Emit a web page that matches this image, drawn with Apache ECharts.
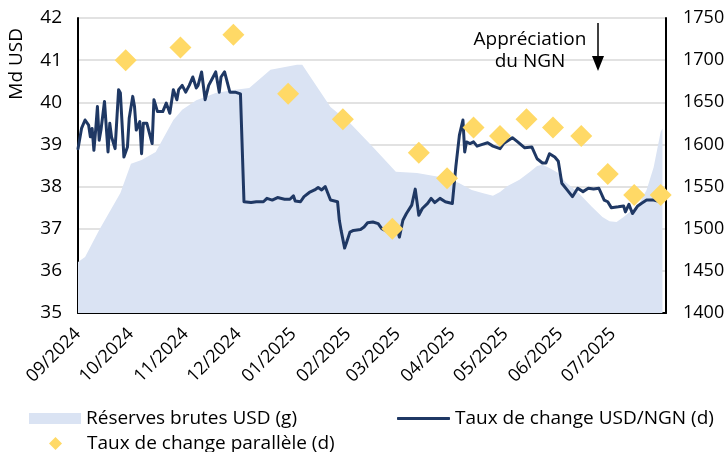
<!DOCTYPE html>
<html lang="fr">
<head>
<meta charset="utf-8">
<title>Nigeria - réserves et taux de change</title>
<script src="https://cdn.jsdelivr.net/npm/echarts@6/dist/echarts.min.js"></script>
<style>
  html, body { margin: 0; padding: 0; background: #fff; }
  #chart { width: 726px; height: 452px; }
</style>
</head>
<body>
<div id="chart"></div>
<script>
// Réserves brutes (Md USD, axe gauche)
var resDates = ['2024-09-01','2024-09-05','2024-09-13','2024-09-25','2024-10-01','2024-10-07','2024-10-15','2024-10-25','2024-10-30',
  '2024-11-07','2024-11-18','2024-11-28','2024-12-07','2024-12-19','2025-01-03','2025-01-06','2025-01-22','2025-02-02','2025-02-15',
  '2025-02-28','2025-03-12','2025-03-29','2025-04-05','2025-04-12','2025-04-18','2025-04-24','2025-04-28','2025-05-02','2025-05-09',
  '2025-05-15','2025-05-19','2025-05-22','2025-05-26','2025-05-31','2025-06-04','2025-06-11','2025-06-19','2025-06-25','2025-06-29',
  '2025-07-03','2025-07-07','2025-07-12','2025-07-16','2025-07-20','2025-07-24','2025-07-28','2025-07-29'];
var resValues = [36.21,36.33,36.97,37.85,38.54,38.63,38.82,39.58,39.82,
  40.05,40.22,40.29,40.34,40.77,40.89,40.89,39.89,39.51,38.94,
  38.35,38.32,38.20,38.08,37.92,37.85,37.78,37.87,38.01,38.16,
  38.35,38.49,38.52,38.44,38.32,38.11,37.87,37.52,37.28,37.18,
  37.16,37.28,37.45,37.61,37.92,38.46,39.30,39.38];

// Taux de change officiel USD/NGN (axe droit)
var rateDates = ['2024-09-01','2024-09-03','2024-09-05','2024-09-07','2024-09-08','2024-09-09','2024-09-10','2024-09-11','2024-09-12',
  '2024-09-13','2024-09-14','2024-09-16','2024-09-18','2024-09-19','2024-09-20','2024-09-22','2024-09-24','2024-09-25','2024-09-27',
  '2024-09-29','2024-09-30','2024-10-02','2024-10-03','2024-10-04','2024-10-06','2024-10-07','2024-10-08','2024-10-10','2024-10-11',
  '2024-10-13','2024-10-14','2024-10-15','2024-10-16','2024-10-19','2024-10-21','2024-10-23','2024-10-25','2024-10-27','2024-10-28',
  '2024-10-30','2024-11-01','2024-11-03','2024-11-05','2024-11-07','2024-11-08','2024-11-10','2024-11-12','2024-11-14','2024-11-16',
  '2024-11-18','2024-11-20','2024-11-21','2024-11-23','2024-11-25','2024-11-26','2024-11-29','2024-12-02','2024-12-04','2024-12-08',
  '2024-12-11','2024-12-15','2024-12-17','2024-12-20','2024-12-23','2024-12-27','2024-12-30','2025-01-01','2025-01-02','2025-01-05',
  '2025-01-07','2025-01-10','2025-01-13','2025-01-15','2025-01-17','2025-01-19','2025-01-20','2025-01-22','2025-01-23','2025-01-26',
  '2025-01-27','2025-01-28','2025-01-30','2025-01-31','2025-02-02','2025-02-04','2025-02-08','2025-02-10','2025-02-12','2025-02-15',
  '2025-02-18','2025-02-20','2025-02-24','2025-02-27','2025-03-01','2025-03-02','2025-03-04','2025-03-06','2025-03-09','2025-03-11',
  '2025-03-13','2025-03-15','2025-03-18','2025-03-20','2025-03-22','2025-03-25','2025-03-28','2025-04-01','2025-04-03','2025-04-05',
  '2025-04-06','2025-04-07','2025-04-08','2025-04-09','2025-04-11','2025-04-13','2025-04-15','2025-04-18','2025-04-21','2025-04-24',
  '2025-04-28','2025-04-30','2025-05-05','2025-05-08','2025-05-12','2025-05-16','2025-05-19','2025-05-22','2025-05-24','2025-05-26',
  '2025-05-29','2025-05-31','2025-06-02','2025-06-05','2025-06-08','2025-06-11','2025-06-14','2025-06-17','2025-06-20','2025-06-23',
  '2025-06-26','2025-06-28','2025-06-30','2025-07-04','2025-07-07','2025-07-08','2025-07-10','2025-07-12','2025-07-15','2025-07-17',
  '2025-07-20','2025-07-24','2025-07-28','2025-07-29'];
var rateValues = [1595,1619,1629,1623,1609,1619,1593,1617,1645,
  1605,1617,1651,1591,1625,1609,1595,1665,1661,1585,
  1597,1631,1657,1645,1617,1627,1589,1625,1625,1617,
  1601,1653,1651,1639,1639,1649,1637,1665,1653,1665,
  1670,1662,1670,1680,1667,1670,1686,1653,1670,1678,
  1686,1662,1680,1686,1670,1662,1662,1660,1532,1531,
  1532,1532,1536,1534,1537,1535,1535,1539,1533,1532,
  1538,1543,1546,1549,1546,1550,1551,1534,1532,1532,
  1510,1498,1477,1483,1496,1498,1499,1502,1507,1508,
  1506,1500,1496,1495,1498,1490,1510,1518,1528,1547,
  1516,1524,1530,1536,1531,1536,1532,1530,1574,1611,
  1613,1629,1591,1603,1601,1603,1598,1600,1602,1598,
  1595,1601,1608,1603,1596,1597,1583,1578,1578,1589,
  1585,1580,1554,1546,1538,1548,1544,1548,1547,1548,
  1534,1532,1525,1526,1527,1520,1529,1518,1527,1530,
  1534,1534,1532,1533];

// Taux de change parallèle (axe droit)
var parDates = ['2024-09-28','2024-10-29','2024-11-28','2024-12-29','2025-01-29','2025-02-26','2025-03-13','2025-03-29',
  '2025-04-13','2025-04-28','2025-05-13','2025-05-28','2025-06-13','2025-06-28','2025-07-13','2025-07-28'];
var parValues = [1700,1715,1730,1660,1630,1500,1590,1560,1620,1610,1630,1620,1610,1565,1540,1540];

var FONT = 'Open Sans';
var zip = function (a, b) { return a.map(function (d, i) { return [d, b[i]]; }); };
var legendText = { fontFamily: FONT, fontSize: 19, color: '#000' };

var chart = echarts.init(document.getElementById('chart'));
chart.setOption({
    animation: false,
    textStyle: { fontFamily: FONT, color: '#000' },
    grid: { left: 78, right: 60, top: 18, bottom: 139, containLabel: false, outerBoundsMode: 'none' },
    legend: [
        { data: [{ name: 'Réserves brutes USD (g)', icon: 'rect' }], left: 29, top: 409, padding: 0, itemWidth: 52, itemHeight: 11,
          textStyle: legendText, selectedMode: false },
        { data: [{ name: 'Taux de change USD/NGN (d)', icon: 'roundRect' }], left: 397, top: 409, padding: 0, itemWidth: 53, itemHeight: 3,
          textStyle: legendText, selectedMode: false },
        { data: [{ name: 'Taux de change parallèle (d)', icon: 'diamond' }], left: 49, top: 434, padding: 0, itemWidth: 13, itemHeight: 13,
          textStyle: Object.assign({ padding: [0, 0, 0, 20] }, legendText), selectedMode: false }
    ],
    xAxis: {
        type: 'time',
        min: '2024-09-01',
        max: '2025-07-31',
        minInterval: 28 * 86400000,
        maxInterval: 31 * 86400000,
        axisLine: { lineStyle: { color: '#000', width: 2 } },
        axisTick: { show: false },
        splitLine: { show: false },
        axisLabel: { formatter: '{MM}/{yyyy}', rotate: 45, fontSize: 18, color: '#000', margin: 18, hideOverlap: false, showMaxLabel: false }
    },
    yAxis: [
        {
            type: 'value', min: 35, max: 42, interval: 1,
            axisLine: { show: true, lineStyle: { color: '#000', width: 2 } },
            axisTick: { show: false },
            axisLabel: { fontSize: 19, color: '#000', margin: 16 },
            splitLine: { lineStyle: { color: '#d9d9d9', width: 1.5 } }
        },
        {
            type: 'value', min: 1400, max: 1750, interval: 50,
            axisLine: { show: true, lineStyle: { color: '#000', width: 2 } },
            axisTick: { show: false },
            axisLabel: { fontSize: 18, color: '#000', margin: 17, formatter: function (v) { return String(v); } },
            splitLine: { show: false }
        }
    ],
    series: [
        {
            name: 'Réserves brutes USD (g)',
            type: 'line',
            yAxisIndex: 0,
            data: zip(resDates, resValues),
            symbol: 'none',
            color: '#dae3f3',
            lineStyle: { width: 0 },
            areaStyle: { color: '#dae3f3', opacity: 1 },
            z: 1
        },
        {
            name: 'Taux de change USD/NGN (d)',
            type: 'line',
            yAxisIndex: 1,
            data: zip(rateDates, rateValues),
            symbol: 'none',
            color: '#1f3864',
            lineStyle: { width: 3, color: '#1f3864', cap: 'round', join: 'round' },
            z: 3
        },
        {
            name: 'Taux de change parallèle (d)',
            type: 'scatter',
            yAxisIndex: 1,
            data: zip(parDates, parValues),
            symbol: 'diamond',
            symbolSize: 22,
            itemStyle: { color: '#ffd966', opacity: 1 },
            z: 4
        }
    ],
    graphic: [
        { type: 'text', left: 7, top: 28, rotation: Math.PI / 2,
          style: { text: 'Md USD', font: '19px ' + FONT, fill: '#000' } },
        { type: 'text', x: 530, y: 51, z: 10,
          style: { text: 'Appréciation\ndu NGN', font: '19px ' + FONT, fill: '#000', align: 'center', verticalAlign: 'middle', lineHeight: 22 } },
        { type: 'line', z: 10, shape: { x1: 598, y1: 23, x2: 598, y2: 60 }, style: { stroke: '#000', lineWidth: 1.5 } },
        { type: 'polygon', z: 10, shape: { points: [[592, 56], [604, 56], [598, 71]] }, style: { fill: '#000' } }
    ]
});
</script>
</body>
</html>
